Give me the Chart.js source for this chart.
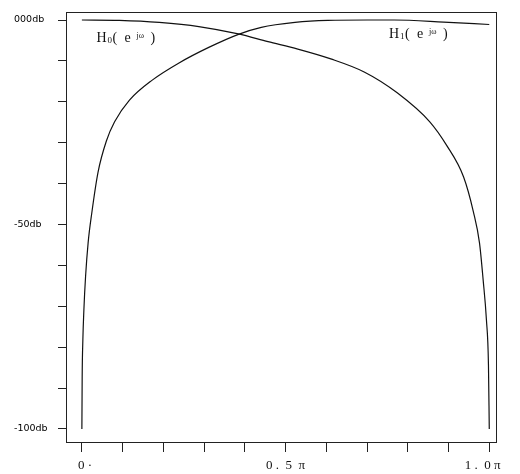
<!DOCTYPE html>
<html>
<head>
<meta charset="utf-8">
<script src="https://cdn.jsdelivr.net/npm/chart.js"></script>
<style>
  body { margin: 0; background: #fff; }
  canvas { display: block; }
</style>
</head>
<body>
<canvas id="chart" width="520" height="474"></canvas>
<script>
// frequency in units of pi, magnitude in dB
const freqH0 = [0, 0.092, 0.190, 0.287, 0.384, 0.457, 0.530, 0.611, 0.693, 0.774, 0.854, 0.895, 0.937, 0.961, 0.976, 0.985, 0.993, 0.998, 1.0];
const dbH0 = [0, -0.1, -0.6, -1.6, -3.4, -5.3, -7.1, -9.5, -12.7, -17.8, -24.9, -30.6, -38.4, -46.9, -54.5, -63.6, -73.3, -84.3, -100];

const freqH1 = [0, 0.0007, 0.0024, 0.0049, 0.0090, 0.0153, 0.0243, 0.0397, 0.0601, 0.0803, 0.1168, 0.1727, 0.2384, 0.3114, 0.3844, 0.4404, 0.5231, 0.6034, 0.7, 0.7664, 0.8881, 1.0];
const dbH1 = [-100, -87.5, -78.2, -70.9, -62.8, -54.5, -47.2, -37.2, -29.6, -24.9, -19.6, -14.7, -10.5, -6.7, -3.5, -1.8, -0.6, -0.1, 0, 0, -0.5, -1.1];

const xTickValues = [0, 0.1, 0.2, 0.3, 0.4, 0.5, 0.6, 0.7, 0.8, 0.9, 1.0];
const xTickLabels = { 0: '  0 \u00b7', 0.5: '0 .  5  \u03c0', 1: '1 .  0 \u03c0    ' };
const yTickValues = [0, -10, -20, -30, -40, -50, -60, -70, -80, -90, -100];
const yTickLabels = { 0: '000db', '-50': '-50db', '-100': '-100db' };

// curve names, placed at (freq, dB) of their left baseline
const curveNames = [
  { sub: '0', x: 0.036, y: -5.4 },
  { sub: '1', x: 0.754, y: -4.4 }
];

function toPoints(xs, ys) {
  return xs.map((x, i) => ({ x: x, y: ys[i] }));
}

const frame = {
  id: 'frame',
  afterDraw(chart) {
    const ctx = chart.ctx;
    const a = chart.chartArea;
    ctx.save();
    ctx.strokeStyle = '#222';
    ctx.lineWidth = 1;
    ctx.strokeRect(Math.round(a.left) + 0.5, Math.round(a.top) + 0.5, Math.round(a.right - a.left), Math.round(a.bottom - a.top));

    // H_k(e^jw) labels
    const xs = chart.scales.x, ys = chart.scales.y;
    ctx.fillStyle = '#111';
    ctx.textBaseline = 'alphabetic';
    curveNames.forEach(n => {
      const px = xs.getPixelForValue(n.x);
      const py = ys.getPixelForValue(n.y);
      ctx.font = '14px "Liberation Serif", serif';
      ctx.fillText('H', px, py);
      ctx.font = '9px "Liberation Serif", serif';
      ctx.fillText(n.sub, px + 11, py + 1);
      ctx.font = '14px "Liberation Serif", serif';
      ctx.fillText('(', px + 16, py);
      ctx.fillText('e', px + 28, py);
      ctx.font = '8px "Liberation Serif", serif';
      ctx.fillText('j\u03c9', px + 40, py - 4);
      ctx.font = '14px "Liberation Serif", serif';
      ctx.fillText(')', px + 54, py);
    });
    ctx.restore();
  }
};

const lineStyle = {
  borderColor: '#111',
  borderWidth: 1.2,
  pointRadius: 0,
  showLine: true,
  fill: false,
  cubicInterpolationMode: 'monotone'
};

new Chart(document.getElementById('chart').getContext('2d'), {
  type: 'scatter',
  data: {
    datasets: [
      Object.assign({ label: 'H0', data: toPoints(freqH0, dbH0) }, lineStyle),
      Object.assign({ label: 'H1', data: toPoints(freqH1, dbH1) }, lineStyle)
    ]
  },
  options: {
    responsive: false,
    animation: false,
    layout: { padding: { top: 12, right: 20, left: 14, bottom: 0 } },
    plugins: { legend: { display: false }, tooltip: { enabled: false } },
    scales: {
      x: {
        type: 'linear',
        min: -0.039,
        max: 1.017,
        afterBuildTicks: s => { s.ticks = xTickValues.map(v => ({ value: v })); },
        afterFit: s => { s.height = 32; },
        border: { display: false },
        grid: { drawOnChartArea: false, drawTicks: true, tickLength: 10, color: '#222', tickColor: '#222' },
        ticks: {
          autoSkip: false,
          maxRotation: 0,
          padding: 6,
          color: '#111',
          font: { family: '"Liberation Serif", serif', size: 13 },
          callback: v => xTickLabels[Math.round(v * 10) / 10] || ''
        }
      },
      y: {
        type: 'linear',
        min: -103.2,
        max: 1.96,
        afterBuildTicks: s => { s.ticks = yTickValues.map(v => ({ value: v })); },
        afterFit: s => { s.width = 52; },
        border: { display: false },
        grid: { drawOnChartArea: false, drawTicks: true, tickLength: 8, color: '#222', tickColor: '#222' },
        ticks: {
          autoSkip: false,
          crossAlign: 'far',
          color: '#000',
          font: { family: '"DejaVu Sans", sans-serif', size: 9.5 },
          callback: v => yTickLabels[String(Math.round(v))] || ''
        }
      }
    }
  },
  plugins: [frame]
});
</script>
</body>
</html>
